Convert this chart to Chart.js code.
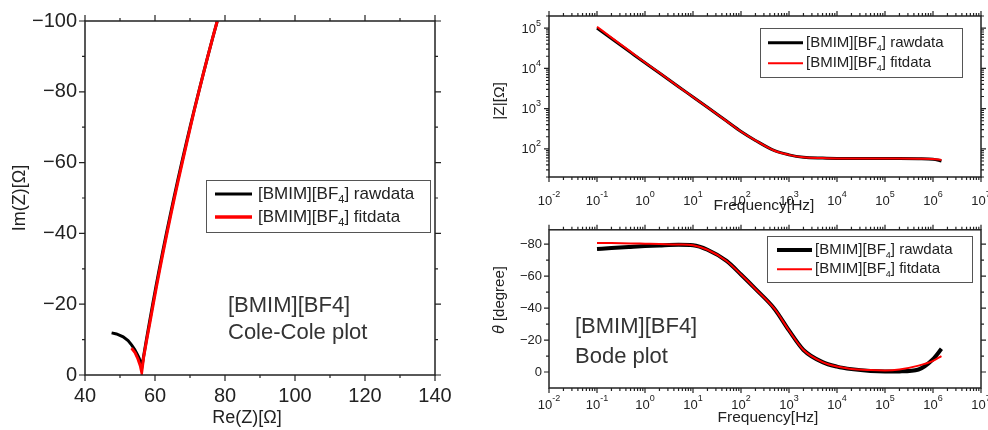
<!DOCTYPE html>
<html>
<head>
<meta charset="utf-8">
<script src="https://cdn.jsdelivr.net/npm/chart.js@4.4.1/dist/chart.umd.min.js"></script>
<style>
  body { margin: 0; background: #fff; width: 988px; height: 430px; position: relative; overflow: hidden; }
  .panel { position: absolute; }
</style>
</head>
<body>
<div class="panel" style="left:0;top:0;width:480px;height:430px"><canvas id="coleCole"></canvas></div>
<div class="panel" style="left:490px;top:0;width:498px;height:215px"><canvas id="bodeZ"></canvas></div>
<div class="panel" style="left:490px;top:215px;width:498px;height:215px"><canvas id="bodePhase"></canvas></div>
<script>
// ---------------- Cole-Cole data (Re / Im in ohm) ----------------
const ccRawRe = [47.6, 49.0, 50.9, 52.3, 53.3, 54.2, 54.8, 55.4, 55.9, 56.2,
  56.7, 57.55, 58.43, 59.34, 60.27, 61.24, 62.23, 63.26, 64.31, 65.39, 66.5, 67.64, 68.81, 70.01, 71.23, 72.49, 73.77, 75.08, 76.42, 77.79];
const ccRawIm = [-11.9, -11.6, -10.8, -9.7, -8.5, -7.2, -6.1, -4.9, -3.6, -2.0,
  -5, -10, -15, -20, -25, -30, -35, -40, -45, -50, -55, -60, -65, -70, -75, -80, -85, -90, -95, -100];
const ccFitRe = [53.3, 54.3, 55.1, 55.8, 56.2,
  56.75, 57.65, 58.58, 59.5, 60.43, 61.4, 62.39, 63.42, 64.47, 65.55, 66.66, 67.79, 68.94, 70.1, 71.28, 72.52, 73.79, 75.09, 76.42, 77.79];
const ccFitIm = [-7.6, -6.3, -4.6, -2.6, -0.8,
  -5, -10, -15, -20, -25, -30, -35, -40, -45, -50, -55, -60, -65, -70, -75, -80, -85, -90, -95, -100];

// ---------------- Bode data ----------------
const freqHz = [0.1, 0.2, 0.5, 1, 2, 5, 10, 20, 50, 100, 200, 500, 1000, 2000, 5000,
  1e4, 2e4, 5e4, 1e5, 2e5, 5e5, 1e6, 1.5e6];
const zRaw = [100000, 55000, 25000, 13800, 7700, 3500, 1950, 1080, 490, 270, 162, 90, 71, 62, 59,
  58, 58, 57.5, 57.5, 57.5, 57, 55.5, 50];
const zFit = [108000, 58000, 26000, 14000, 7800, 3500, 1950, 1080, 490, 270, 162, 90, 71, 62, 59,
  58, 58, 57.5, 57.5, 57.5, 57, 56, 53];
const phaseRaw = [-77, -77.6, -78.3, -78.8, -79.2, -79.6, -79.3, -76.5, -69.5, -61, -52, -39.5, -26, -13.8, -6.2,
  -3.4, -1.8, -0.6, -0.3, -0.4, -1.6, -8, -14.5];
const phaseFit = [-80.8, -80.7, -80.5, -80.3, -80.1, -79.8, -79.3, -76.5, -69.5, -61, -52, -39.5, -26, -13.8, -6.2,
  -3.4, -1.9, -1.2, -1.0, -1.6, -4.0, -7.0, -10];

// ---------------- axis ticks / names ----------------
const reTicks = [40, 60, 80, 100, 120, 140];
const imTicks = [-100, -80, -60, -40, -20, 0];
const phaseTicks = [-80, -60, -40, -20, 0];
const freqDecades = [-2, -1, 0, 1, 2, 3, 4, 5, 6, 7];
const zDecades = [2, 3, 4, 5];
const seriesNames = ['[BMIM][BF₄] rawdata', '[BMIM][BF₄] fitdata'];

const SANS = '"Liberation Sans", Arial, sans-serif';
const NARROW = '"Liberation Sans Narrow", "Liberation Sans", sans-serif';

const pairs = (xs, ys) => xs.map((x, i) => ({ x, y: ys[i] }));
const minus = v => (v < 0 ? '−' + Math.abs(v) : String(v));

// extra drawing per canvas: frame, outward ticks, legend, notes, titles
const decor = {
  coleCole: {
    minorStep: { x: 10, y: 10 }, majorLen: 6, minorLen: 3,
    legend: { x: 206, y: 180, w: 224, h: 52, rows: [194, 217], line: [215, 252], textX: 258, size: 17, widths: [3, 3.5] },
    notes: [['[BMIM][BF4]', 228, 306], ['Cole-Cole plot', 228, 333]], noteSize: 22,
    titles: [
      { x: 247, y: 418, rot: 0, parts: [['Re(Z)[Ω]', '18px ' + SANS]] },
      { x: 20, y: 198, rot: -Math.PI / 2, parts: [['Im(Z)[Ω]', '18px ' + SANS]] }
    ]
  },
  bodeZ: {
    log: { x: true, y: true }, majorLen: 5, minorLen: 3,
    xLabels: { decades: freqDecades, y: 201 },
    yLabels: { decades: zDecades, x: 51 },
    legend: { x: 270, y: 28, w: 202, h: 49, rows: [42.7, 63.3], line: [278, 313], textX: 316, size: 15, widths: [3, 2] },
    notes: [],
    titles: [
      { x: 274, y: 206, rot: 0, parts: [['Frequency[Hz]', '15.5px ' + SANS]] },
      { x: 10, y: 101, rot: -Math.PI / 2, parts: [['|Z|[Ω]', '15.5px ' + SANS]] }
    ]
  },
  bodePhase: {
    log: { x: true }, minorStep: { y: 10 }, majorLen: 5, minorLen: 3,
    xLabels: { decades: freqDecades, y: 190 },
    legend: { x: 277, y: 21, w: 205, h: 46, rows: [35, 54.3], line: [287, 322], textX: 325, size: 15, widths: [4, 2] },
    notes: [['[BMIM][BF4]', 85, 112], ['Bode plot', 85, 142]], noteSize: 22,
    titles: [
      { x: 278, y: 203, rot: 0, parts: [['Frequency[Hz]', '15.5px ' + SANS]] },
      { x: 10, y: 85, rot: -Math.PI / 2, parts: [['θ', 'italic 16px ' + SANS], [' [degree]', '15px ' + SANS]] }
    ]
  }
};

function tickSets(scale, isLog, step) {
  const major = [], minor = [];
  if (isLog) {
    const lo = Math.floor(Math.log10(scale.min)), hi = Math.ceil(Math.log10(scale.max));
    for (let k = lo; k <= hi; k++) {
      for (let m = 1; m < 10; m++) {
        const v = m * Math.pow(10, k);
        if (v < scale.min * 0.999 || v > scale.max * 1.001) continue;
        (m === 1 ? major : minor).push(v);
      }
    }
  } else {
    scale.ticks.forEach(t => major.push(t.value));
    for (let v = Math.ceil(scale.min / step) * step; v < scale.max; v += step) {
      if (v > scale.min && !major.includes(v)) minor.push(v);
    }
  }
  return { major, minor };
}

function drawParts(ctx, parts, x, y, rot, align) {
  ctx.save();
  ctx.translate(x, y);
  ctx.rotate(rot || 0);
  ctx.textBaseline = 'middle';
  ctx.textAlign = 'left';
  let total = 0;
  parts.forEach(([s, f]) => { ctx.font = f; total += ctx.measureText(s).width; });
  let cx = align === 'left' ? 0 : -total / 2;
  parts.forEach(([s, f]) => { ctx.font = f; ctx.fillText(s, cx, 0); cx += ctx.measureText(s).width; });
  ctx.restore();
}

// "10" with a raised exponent
function drawPow(ctx, k, x, y, align) {
  const base = '10', sup = k < 0 ? '-' + (-k) : String(k);
  const fb = '13px ' + SANS, fs = '9px ' + SANS;
  ctx.font = fb; const wb = ctx.measureText(base).width;
  ctx.font = fs; const ws = ctx.measureText(sup).width;
  const x0 = align === 'right' ? x - wb - ws : x - (wb + ws) / 2;
  ctx.textAlign = 'left';
  ctx.textBaseline = 'middle';
  ctx.font = fb; ctx.fillText(base, x0, y);
  ctx.font = fs; ctx.fillText(sup, x0 + wb, y - 6);
}

function drawLegendLabel(ctx, label, x, y, size) {
  const [a, b] = label.split('₄');
  const f = size + 'px ' + SANS, fsub = Math.round(size * 0.62) + 'px ' + SANS;
  ctx.textAlign = 'left';
  ctx.textBaseline = 'middle';
  ctx.font = f; ctx.fillText(a, x, y);
  let w = ctx.measureText(a).width;
  ctx.font = fsub; ctx.fillText('4', x + w, y + size * 0.38);
  w += ctx.measureText('4').width;
  ctx.font = f; ctx.fillText(b, x + w, y);
}

const decorPlugin = {
  id: 'decor',
  afterDraw(chart) {
    const cfg = decor[chart.canvas.id];
    const { ctx, chartArea: a } = chart;
    const xs = chart.scales.x, ys = chart.scales.y;
    const log = cfg.log || {}, step = cfg.minorStep || {};
    ctx.save();

    // frame
    ctx.strokeStyle = '#222';
    ctx.lineWidth = 1.5;
    ctx.strokeRect(a.left, a.top, a.right - a.left, a.bottom - a.top);

    // outward ticks on all four sides
    const tx = tickSets(xs, log.x, step.x), ty = tickSets(ys, log.y, step.y);
    ctx.lineWidth = 1.2;
    ctx.beginPath();
    const xt = (v, len) => {
      const p = xs.getPixelForValue(v);
      ctx.moveTo(p, a.bottom); ctx.lineTo(p, a.bottom + len);
      ctx.moveTo(p, a.top); ctx.lineTo(p, a.top - len);
    };
    const yt = (v, len) => {
      const p = ys.getPixelForValue(v);
      ctx.moveTo(a.left, p); ctx.lineTo(a.left - len, p);
      ctx.moveTo(a.right, p); ctx.lineTo(a.right + len, p);
    };
    tx.major.forEach(v => xt(v, cfg.majorLen));
    tx.minor.forEach(v => xt(v, cfg.minorLen));
    ty.major.forEach(v => yt(v, cfg.majorLen));
    ty.minor.forEach(v => yt(v, cfg.minorLen));
    ctx.stroke();

    // power-of-ten tick labels
    ctx.fillStyle = '#222';
    if (cfg.xLabels) cfg.xLabels.decades.forEach(k => drawPow(ctx, k, xs.getPixelForValue(Math.pow(10, k)), cfg.xLabels.y, 'center'));
    if (cfg.yLabels) cfg.yLabels.decades.forEach(k => drawPow(ctx, k, cfg.yLabels.x, ys.getPixelForValue(Math.pow(10, k)) + 1, 'right'));

    // axis titles
    cfg.titles.forEach(t => drawParts(ctx, t.parts, t.x, t.y, t.rot));

    // notes inside the plot
    ctx.fillStyle = '#333';
    cfg.notes.forEach(([s, x, y]) => drawParts(ctx, [[s, cfg.noteSize + 'px ' + SANS]], x, y, 0, 'left'));

    // legend box
    const lg = cfg.legend;
    ctx.fillStyle = '#fff';
    ctx.fillRect(lg.x, lg.y, lg.w, lg.h);
    ctx.strokeStyle = '#555';
    ctx.lineWidth = 1;
    ctx.strokeRect(lg.x + 0.5, lg.y + 0.5, lg.w, lg.h);
    chart.data.datasets.forEach((ds, i) => {
      const y = lg.rows[i];
      ctx.strokeStyle = ds.borderColor;
      ctx.lineWidth = lg.widths[i];
      ctx.beginPath();
      ctx.moveTo(lg.line[0], y);
      ctx.lineTo(lg.line[1], y);
      ctx.stroke();
      ctx.fillStyle = '#222';
      drawLegendLabel(ctx, ds.label, lg.textX, y, lg.size);
    });
    ctx.restore();
  }
};

const hidden = { grid: { display: false, drawTicks: false }, border: { display: false } };

function series(label, data, color, width, order) {
  return { label, data, borderColor: color, backgroundColor: color, borderWidth: width,
    showLine: true, pointRadius: 0, order, cubicInterpolationMode: 'monotone' };
}

// ---------------- Cole-Cole plot ----------------
new Chart(document.getElementById('coleCole'), {
  type: 'scatter',
  data: {
    datasets: [
      Object.assign(series(seriesNames[0], pairs(ccRawRe, ccRawIm), '#000', 3, 1), { cubicInterpolationMode: 'default', tension: 0 }),
      Object.assign(series(seriesNames[1], pairs(ccFitRe, ccFitIm), '#f00', 3, 0), { cubicInterpolationMode: 'default', tension: 0 })
    ]
  },
  options: {
    responsive: true, maintainAspectRatio: false, animation: false,
    layout: { padding: { top: 21, right: 45, left: 0, bottom: 0 } },
    plugins: { legend: { display: false }, tooltip: { enabled: false } },
    scales: {
      x: Object.assign({
        type: 'linear', min: 40, max: 140,
        afterBuildTicks: s => { s.ticks = reTicks.map(v => ({ value: v })); },
        afterFit: s => { s.height = 55; },
        ticks: { font: { family: NARROW, size: 20 }, color: '#222', padding: 9, maxRotation: 0, autoSkip: false }
      }, hidden),
      y: Object.assign({
        type: 'linear', min: -100, max: 0, reverse: true,
        afterBuildTicks: s => { s.ticks = imTicks.map(v => ({ value: v })); },
        afterFit: s => { s.width = 85; },
        ticks: { font: { family: NARROW, size: 20 }, color: '#222', padding: 8, autoSkip: false, callback: v => minus(v) }
      }, hidden)
    }
  },
  plugins: [decorPlugin]
});

// ---------------- Bode |Z| ----------------
new Chart(document.getElementById('bodeZ'), {
  type: 'scatter',
  data: {
    datasets: [
      series(seriesNames[0], pairs(freqHz, zRaw), '#000', 3, 1),
      series(seriesNames[1], pairs(freqHz, zFit), '#f00', 2, 0)
    ]
  },
  options: {
    responsive: true, maintainAspectRatio: false, animation: false,
    layout: { padding: { top: 16, right: 7, left: 0, bottom: 0 } },
    plugins: { legend: { display: false }, tooltip: { enabled: false } },
    scales: {
      x: Object.assign({ type: 'logarithmic', min: 0.01, max: 1e7, ticks: { display: false },
        afterFit: s => { s.height = 38; } }, hidden),
      y: Object.assign({ type: 'logarithmic', min: 20, max: 2e5, ticks: { display: false },
        afterFit: s => { s.width = 59; } }, hidden)
    }
  },
  plugins: [decorPlugin]
});

// ---------------- Bode phase ----------------
new Chart(document.getElementById('bodePhase'), {
  type: 'scatter',
  data: {
    datasets: [
      series(seriesNames[0], pairs(freqHz, phaseRaw), '#000', 4, 1),
      series(seriesNames[1], pairs(freqHz, phaseFit), '#f00', 2, 0)
    ]
  },
  options: {
    responsive: true, maintainAspectRatio: false, animation: false,
    layout: { padding: { top: 6, right: 7, left: 0, bottom: 0 } },
    plugins: { legend: { display: false }, tooltip: { enabled: false } },
    scales: {
      x: Object.assign({ type: 'logarithmic', min: 0.01, max: 1e7, ticks: { display: false },
        afterFit: s => { s.height = 42; } }, hidden),
      y: Object.assign({
        type: 'linear', min: -89, max: 10, reverse: true,
        afterBuildTicks: s => { s.ticks = phaseTicks.map(v => ({ value: v })); },
        afterFit: s => { s.width = 59; },
        ticks: { font: { family: SANS, size: 13 }, color: '#222', padding: 7, autoSkip: false, callback: v => minus(v) }
      }, hidden)
    }
  },
  plugins: [decorPlugin]
});
</script>
</body>
</html>
